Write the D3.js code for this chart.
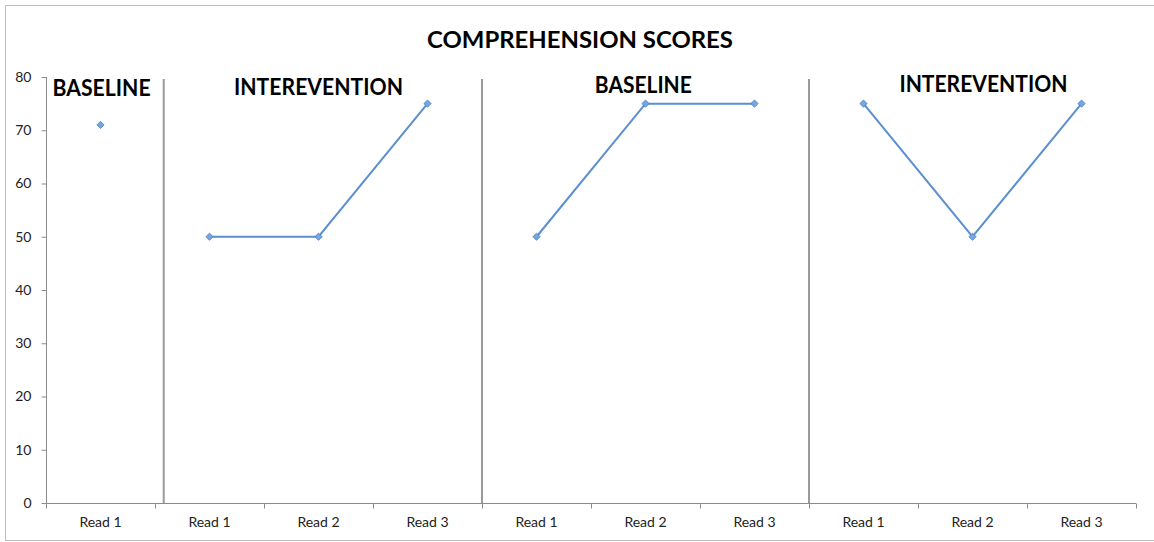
<!DOCTYPE html>
<html><head><meta charset="utf-8">
<script src="https://cdn.jsdelivr.net/npm/d3@7"></script>
<style>body{margin:0;background:#fff}</style>
</head><body>
<svg id="c" width="1154" height="542"></svg>
<script>
// Data
const categories = ["Read 1","Read 1","Read 2","Read 3","Read 1","Read 2","Read 3","Read 1","Read 2","Read 3"];
const phases = [
  {name:"BASELINE", idx:[0], values:[71]},
  {name:"INTEREVENTION", idx:[1,2,3], values:[50,50,75]},
  {name:"BASELINE", idx:[4,5,6], values:[50,75,75]},
  {name:"INTEREVENTION", idx:[7,8,9], values:[75,50,75]}
];
const yTicks = [0,10,20,30,40,50,60,70,80];
const separators = [1.08, 4, 7];            // in category units
const labelPos = [[0.51,76.4,98],[2.5,76.6,169],[5.48,77.0,97],[8.6,77.2,168]]; // [cat pos, value, width]
const title = "COMPREHENSION SCORES";

const svg = d3.select("#c");
svg.append("rect").attr("x",5.5).attr("y",5.5).attr("width",1160).attr("height",535)
  .attr("fill","none").attr("stroke","#bdbdbd").attr("stroke-width",1);

const x = d3.scaleBand().domain(d3.range(categories.length)).range([46,1136]).padding(0);
const y = d3.scaleLinear().domain([0,80]).range([503,77]);
const xc = p => x.range()[0] + p * x.step();

// axes
const yAxis = d3.axisLeft(y).tickValues(yTicks).tickSize(5).tickPadding(10);
const gy = svg.append("g").attr("transform","translate(46.5,0)").call(yAxis);
gy.selectAll("path,line").attr("stroke","#8c8c8c");
gy.select(".domain").attr("d","M0,"+y(80)+"V"+y(0));
gy.selectAll("text").attr("font-family","Lato").attr("font-size",14).attr("fill","#222");

const xAxis = d3.axisBottom(x).tickFormat(i=>categories[i]).tickSize(0).tickPadding(14);
const gx = svg.append("g").attr("transform","translate(0,503.5)").call(xAxis);
gx.select(".domain").attr("d","M46,0H1136").attr("stroke","#8c8c8c");
gx.selectAll("text").attr("font-family","Lato").attr("font-size",14).attr("fill","#222");
gx.selectAll(".bt").data(d3.range(categories.length+1)).join("line")
  .attr("x1",i=>Math.round(xc(i))+0.5).attr("x2",i=>Math.round(xc(i))+0.5)
  .attr("y1",0).attr("y2",5).attr("stroke","#8c8c8c");

// separators
svg.selectAll(".sep").data(separators).join("line")
  .attr("x1",d=>xc(d)).attr("x2",d=>xc(d)).attr("y1",y(80)+2).attr("y2",y(0))
  .attr("stroke","#9a9a9a").attr("stroke-width",2);

// title
svg.append("text").attr("x",580).attr("y",48).attr("text-anchor","middle")
  .attr("font-family","Lato").attr("font-weight","bold").attr("font-size",22)
  .attr("textLength",306).attr("lengthAdjust","spacingAndGlyphs").attr("fill","#000").text(title);

// phase labels
svg.selectAll(".pl").data(phases).join("text")
  .attr("x",(d,i)=>xc(labelPos[i][0])).attr("y",(d,i)=>y(labelPos[i][1]))
  .attr("text-anchor","middle").attr("font-family","Lato").attr("font-weight","bold")
  .attr("font-size",22).attr("textLength",(d,i)=>labelPos[i][2]).attr("lengthAdjust","spacingAndGlyphs")
  .attr("fill","#000").text(d=>d.name);

// lines and markers
const line = d3.line().x(d=>x(d[0])+x.bandwidth()/2).y(d=>y(d[1]));
phases.forEach(p=>{
  const pts = p.idx.map((k,j)=>[k,p.values[j]]);
  if(pts.length>1) svg.append("path").attr("d",line(pts)).attr("fill","none")
    .attr("stroke","#5b8fd2").attr("stroke-width",2);
  svg.selectAll(null).data(pts).join("path")
    .attr("d",d3.symbol(d3.symbolSquare,26)())
    .attr("transform",d=>`translate(${x(d[0])+x.bandwidth()/2},${y(d[1])}) rotate(45)`)
    .attr("fill","#76a5e0").attr("stroke","#4a7fc4").attr("stroke-width",0.8);
});
</script>
</body></html>
